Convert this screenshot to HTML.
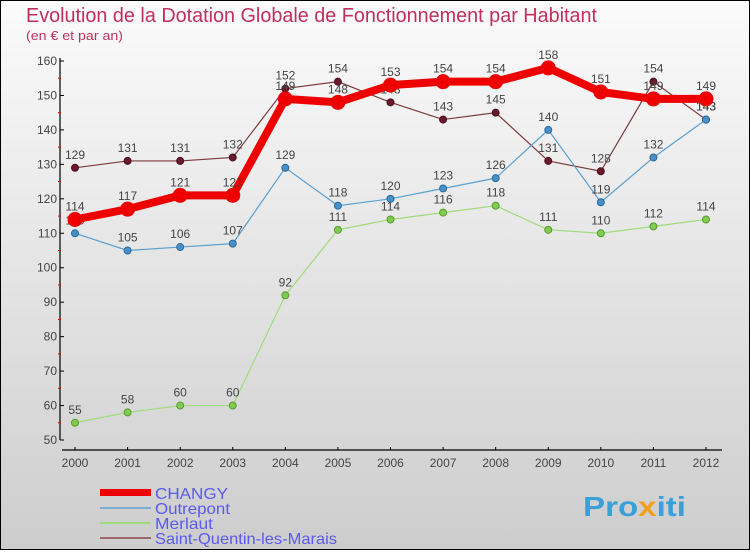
<!DOCTYPE html>
<html><head><meta charset="utf-8"><style>
body{margin:0;width:750px;height:550px;overflow:hidden;font-family:"Liberation Sans",sans-serif}
</style></head><body>
<svg width="750" height="550" viewBox="0 0 750 550" id="chart">
<defs><linearGradient id="bg" x1="0" y1="0" x2="0" y2="1"><stop offset="0" stop-color="#fbfbfb"/><stop offset="1" stop-color="#cdcdcd"/></linearGradient></defs>
<rect x="0.5" y="0.5" width="749" height="549" fill="url(#bg)" stroke="#000"/>
<text x="26" y="22" font-size="20" fill="#c0305a" textLength="571" lengthAdjust="spacingAndGlyphs">Evolution de la Dotation Globale de Fonctionnement par Habitant</text>
<text x="26" y="40" font-size="13" fill="#c0305a" textLength="97" lengthAdjust="spacingAndGlyphs">(en € et par an)</text>
<g id="axes"></g><g id="series"></g>
<g>
<rect x="100" y="489" width="51" height="7" fill="#e00"/>
<text x="155" y="499" font-size="16" fill="#5a5af0" textLength="73" lengthAdjust="spacingAndGlyphs">CHANGY</text>
<line x1="100" y1="508" x2="151" y2="508" stroke="#7aaed0" stroke-width="2"/>
<text x="155" y="514" font-size="16" fill="#5a5af0" textLength="75" lengthAdjust="spacingAndGlyphs">Outrepont</text>
<line x1="100" y1="523" x2="151" y2="523" stroke="#9ddc7a" stroke-width="2"/>
<text x="155" y="529" font-size="16" fill="#5a5af0" textLength="58" lengthAdjust="spacingAndGlyphs">Merlaut</text>
<line x1="100" y1="538" x2="151" y2="538" stroke="#9a6a6a" stroke-width="2"/>
<text x="155" y="544" font-size="16" fill="#5a5af0" textLength="182" lengthAdjust="spacingAndGlyphs">Saint-Quentin-les-Marais</text>
</g>
<text x="583" y="516" font-size="28" font-weight="bold" fill="#3aa0d8" textLength="103" lengthAdjust="spacingAndGlyphs">Pro<tspan fill="#f0a020">x</tspan>iti</text>
</svg>
<script>
const years=[2000,2001,2002,2003,2004,2005,2006,2007,2008,2009,2010,2011,2012];
const changy=[114,117,121,121,149,148,153,154,154,158,151,149,149];
const outrepont=[110,105,106,107,129,118,120,123,126,140,119,132,143];
const merlaut=[55,58,60,60,92,111,114,116,118,111,110,112,114];
const stquentin=[129,131,131,132,152,154,148,143,145,131,128,154,143];
const yTicks=[50,60,70,80,90,100,110,120,130,140,150,160];
const NS="http://www.w3.org/2000/svg";
const X=i=>75+i*(706-75)/(years.length-1);
const Y=v=>440-(v-50)*(440-61)/110;
function mk(t,a,p){const e=document.createElementNS(NS,t);for(const k in a)e.setAttribute(k,a[k]);p.appendChild(e);return e;}
const ax=document.getElementById('axes');
let l=mk('line',{x1:60,y1:58,x2:60,y2:440,stroke:'#000','stroke-width':1.2},ax);


l=mk('line',{x1:62,y1:450,x2:722,y2:450,stroke:'#000','stroke-width':1.2},ax);


yTicks.forEach(v=>{mk('line',{x1:60,y1:Y(v),x2:64,y2:Y(v),stroke:'#000'},ax);
if(v<160)mk('line',{x1:58,y1:Y(v+5),x2:61,y2:Y(v+5),stroke:'#e00'},ax);
const t=mk('text',{x:57,y:Y(v)+4,'font-size':12,fill:'#444','text-anchor':'end'},ax);t.textContent=v;

});
years.forEach((y,i)=>{mk('line',{x1:X(i),y1:447,x2:X(i),y2:450,stroke:'#000'},ax);
const t=mk('text',{x:X(i),y:467,'font-size':12,fill:'#444','text-anchor':'middle'},ax);t.textContent=y;

});
const sg=document.getElementById('series');
function series(name,vals,col,w,r,fill,stroke){
const g=mk('g',{},sg);


mk('polyline',{points:vals.map((v,i)=>X(i)+','+Y(v)).join(' '),fill:'none',stroke:col,'stroke-width':w},g);
vals.forEach((v,i)=>{const c=mk('circle',{cx:X(i),cy:Y(v),r:r,fill:fill,stroke:stroke},g);


const t=mk('text',{x:X(i),y:Y(v)-9,'font-size':12,fill:'#444','text-anchor':'middle'},g);t.textContent=v;});}
series('saint-quentin',stquentin,'#7a3a3a',1.2,3.5,'#6a1a2a','#4a1020');
series('merlaut',merlaut,'#9ddc7a',1.2,3.5,'#80cc50','#5a9a30');
series('outrepont',outrepont,'#5a9fd0',1.2,3.5,'#4a90c8','#2a6a9a');
series('changy',changy,'#e00',8,7,'#e00','#e00');
</script>
</body></html>
